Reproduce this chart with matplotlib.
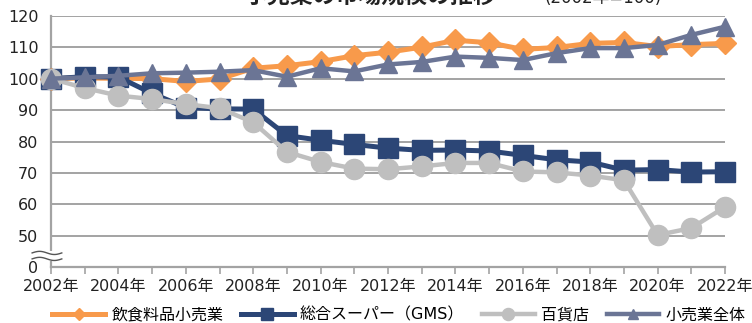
import matplotlib
matplotlib.use("Agg")
import matplotlib.pyplot as plt
import numpy as np

plt.rcParams['font.family'] = ['DejaVu Sans', 'Noto Sans CJK JP']

# 2002年 = 100 とした指数
years = list(range(2002, 2023))
food_retail = [100.0, 100.2, 100.1, 100.0, 99.1, 99.9, 103.3, 104.1, 105.4, 107.3, 108.4,
               110.0, 112.2, 111.4, 109.3, 109.9, 111.2, 111.5, 110.2, 110.8, 111.2]
gms = [100.0, 100.6, 100.5, 95.3, 90.8, 90.4, 90.3, 81.9, 80.4, 79.1, 77.9,
       77.2, 77.3, 77.0, 75.6, 74.2, 73.5, 70.9, 71.1, 70.3, 70.4]
dept_store = [100.0, 97.0, 94.6, 93.5, 91.9, 90.6, 86.1, 76.7, 73.5, 71.4, 71.2,
              72.1, 73.2, 73.2, 70.5, 70.2, 69.2, 67.7, 50.3, 52.5, 59.2]
retail_total = [100.0, 100.4, 100.9, 101.7, 101.9, 102.2, 102.7, 100.6, 103.3, 102.3, 104.5,
                105.3, 107.0, 106.6, 105.9, 108.1, 109.7, 109.7, 110.7, 113.9, 116.5]

series_names = ['飲食料品小売業', '総合スーパー（GMS）', '百貨店', '小売業全体']
y_ticks = [40, 50, 60, 70, 80, 90, 100, 110, 120]
y_tick_labels = ['0', '50', '60', '70', '80', '90', '100', '110', '120']

c_orange = '#F89A4B'
c_navy = '#2C4676'
c_gray = '#BFBFBF'
c_slate = '#6B7595'
c_grid = '#A3A3A3'
c_text = '#222222'

fig = plt.figure(figsize=(7.52, 3.23), dpi=100)
ax = fig.add_axes([51 / 752, 55.6 / 323, 674 / 752, 251.7 / 323])

common = dict(clip_on=False)
ax.plot(years, food_retail, color=c_orange, lw=3.6, marker='D', ms=11,
        label=series_names[0], zorder=3, **common)
ax.plot(years, gms, color=c_navy, lw=3.6, marker='s', ms=14.5,
        label=series_names[1], zorder=4, **common)
ax.plot(years, dept_store, color=c_gray, lw=3.2, marker='o', ms=14.5,
        label=series_names[2], zorder=5, **common)
ax.plot(years, retail_total, color=c_slate, lw=3.2, marker='^', ms=13,
        label=series_names[3], zorder=6, **common)

ax.set_xlim(2002, 2022)
ax.set_ylim(40, 120)
ax.set_yticks(y_ticks)
ax.set_yticklabels(y_tick_labels, fontsize=11.5, color=c_text)
ax.set_xticks(years)
ax.set_xticklabels([f'{y}年' if y % 2 == 0 else '' for y in years],
                   fontsize=11.5, color=c_text)
ax.tick_params(axis='y', length=0, pad=9)
ax.tick_params(axis='x', length=5, width=1.2, color=c_grid, direction='out', pad=3)

ax.grid(axis='y', color=c_grid, lw=1.4, zorder=1)
ax.set_axisbelow(True)
for side in ('top', 'right'):
    ax.spines[side].set_visible(False)
for side in ('left', 'bottom'):
    ax.spines[side].set_color(c_grid)
    ax.spines[side].set_linewidth(1.6)

# 縦軸の省略記号（波線）
tr = ax.get_yaxis_transform()
wx = np.linspace(-0.028, 0.016, 40)
ax.fill_between(wx, 42.0, 45.3, color='white', transform=tr,
                clip_on=False, zorder=7, lw=0)
for base in (44.6, 42.7):
    wy = base + 0.5 * np.sin((wx + 0.028) / 0.044 * 2 * np.pi)
    ax.plot(wx, wy, color='#555555', lw=1.0, transform=tr, clip_on=False, zorder=8)

# タイトル
fig.text(370 / 752, 1.010, '小売業の市場規模の推移', ha='center', va='center',
         fontsize=16.5, fontweight='bold', color=c_text)
fig.text(603 / 752, 1.005, '(2002年=100)', ha='center', va='center',
         fontsize=12, color=c_text)

leg = fig.legend(loc='center', bbox_to_anchor=(399 / 752, 8 / 323), ncol=4,
                 frameon=False, fontsize=11.5, handlelength=3.3, handletextpad=0.4,
                 columnspacing=1.1, markerscale=0.6)

fig.savefig('out.png', dpi=100)
